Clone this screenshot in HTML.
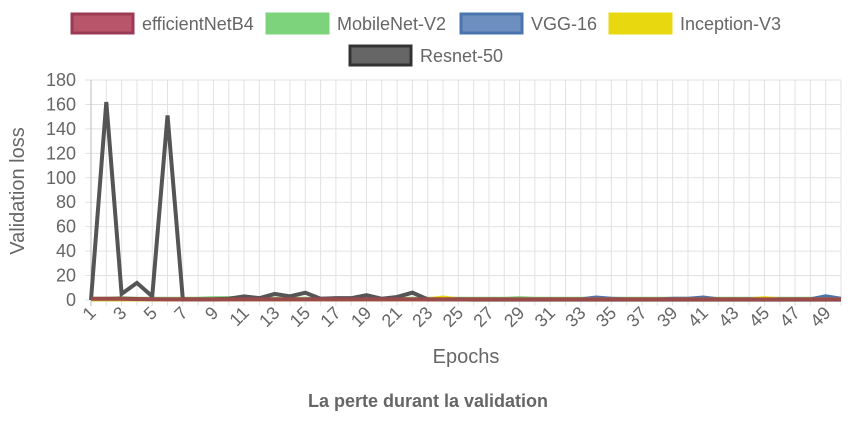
<!DOCTYPE html>
<html><head><meta charset="utf-8"><style>
body{margin:0;background:#fff;font-family:"Liberation Sans",sans-serif;}
svg text{font-family:"Liberation Sans",sans-serif;fill:#666;}
</style></head><body>
<svg id="c" width="855" height="427"></svg>
<script>
const epochs=[];for(let i=1;i<=50;i++)epochs.push(i);
const yTicks=[0,20,40,60,80,100,120,140,160,180];
const resnet=[0,162,5,14,3,151,0.5,0.5,0.5,1,3,1.5,5,3,6,1,1.5,1.5,4,1,2.5,6,0.5,0.5,0.5,0.3,0.3,0.3,0.3,0.3,0.3,0.3,0.3,0.3,0.3,0.3,0.3,0.3,0.3,0.3,0.3,0.3,0.3,0.3,0.3,0.3,0.3,0.3,0.3,0.3];
const mobilenet=[1,1,1.5,1,1,1,1,1,1.5,1.5,1.5,1,1,1,1,1,1,1,1,1,1,1,1,1,1,1,1,1,1.5,1,1,1,1,1,1,1,1,1,1,1,1,1,1,1,1,1,1,1,1,1];
const vgg=[0.5,0.5,0.5,0.5,0.5,0.5,0.5,0.5,0.5,0.5,0.5,0.5,0.5,0.5,0.5,1,0.5,0.5,0.5,0.5,0.5,0.5,0.5,0.5,0.5,0.5,0.5,0.5,0.5,0.5,0.5,0.5,0.5,2,1,0.5,0.5,0.5,1,1,2,0.5,0.5,0.5,1,0.5,0.5,0.5,3,1];
const inception=[0.5,0.5,0.5,0.5,0.5,0.5,0.5,0.5,0.5,0.5,0.5,0.5,0.5,0.5,0.5,0.5,0.5,0.5,0.5,0.5,0.5,0.5,0.5,2,0.5,0.5,0.5,0.5,0.5,0.5,0.5,0.5,0.5,0.5,0.5,0.5,0.5,0.5,0.5,0.5,0.5,0.5,0.5,0.5,1.5,0.5,0.5,0.5,0.5,0.5];
const effnet=[1,1,1,0.8,0.6,0.5,0.5,0.5,0.5,0.5,0.5,0.5,0.5,0.5,0.5,0.5,0.5,0.5,0.5,0.5,0.5,0.5,0.5,0.5,0.5,0.5,0.5,0.5,0.5,0.5,0.5,0.5,0.5,0.5,0.5,0.5,0.5,0.5,0.5,0.5,0.5,0.5,0.5,0.5,0.5,0.5,0.5,0.5,0.5,0.5];
const series=[
 {name:"MobileNet-V2",data:mobilenet,stroke:"#7dd37b"},
 {name:"VGG-16",data:vgg,stroke:"#4a74ad"},
 {name:"Inception-V3",data:inception,stroke:"#e8d80f"},
 {name:"Resnet-50",data:resnet,stroke:"#555"},
 {name:"efficientNetB4",data:effnet,stroke:"#9b4a4a"}];
const NS="http://www.w3.org/2000/svg",svg=document.getElementById('c');
function el(t,a,p){const e=document.createElementNS(NS,t);for(const k in a)e.setAttribute(k,a[k]);(p||svg).appendChild(e);return e;}
const x0=91,x1=841,y0=300,y1=80;
const xs=i=>x0+(i-1)*(x1-x0)/49, ys=v=>y0-v*(y0-y1)/180;
const grid=el('g',{});
yTicks.forEach(t=>{el('line',{x1:x0-6,x2:x1,y1:ys(t),y2:ys(t),stroke:'#e2e2e2'},grid);
 const tx=el('text',{x:76,y:ys(t)+6,'text-anchor':'end','font-size':18});tx.textContent=t;
 });
epochs.forEach(e=>{el('line',{x1:xs(e),x2:xs(e),y1:y1,y2:y0+6,stroke:e===1?'#bbb':'#e2e2e2'},grid);
 if(e%2===1){const tx=el('text',{transform:`translate(${xs(e)+6},${y0+14}) rotate(-45)`,'text-anchor':'end','font-size':18});tx.textContent=e;
 }});
series.forEach(s=>{const p=el('polyline',{points:s.data.map((v,i)=>xs(epochs[i])+','+ys(v)).join(' '),fill:'none',stroke:s.stroke,'stroke-width':4,'stroke-linejoin':'miter'});
 });
const leg=[["efficientNetB4",72,14,"#b8556b","#9b3a55"],["MobileNet-V2",267,14,"#7dd37b","#7dd37b"],["VGG-16",461,14,"#6d8fc0","#4a74ad"],["Inception-V3",610,14,"#e8d80f","#e8d80f"],["Resnet-50",350,46,"#666","#333"]];
leg.forEach(l=>{const g=el('g',{});
 el('rect',{x:l[1],y:l[2],width:61,height:19,fill:l[3],stroke:l[4],'stroke-width':3},g);
 const t=el('text',{x:l[1]+70,y:l[2]+16,'font-size':18},g);t.textContent=l[0];});
let t=el('text',{x:466,y:363,'text-anchor':'middle','font-size':20});t.textContent='Epochs';
t=el('text',{transform:'translate(24,191) rotate(-90)','text-anchor':'middle','font-size':20});t.textContent='Validation loss';
t=el('text',{x:428,y:407,'text-anchor':'middle','font-size':18,'font-weight':'bold'});t.textContent='La perte durant la validation';
</script></body></html>
